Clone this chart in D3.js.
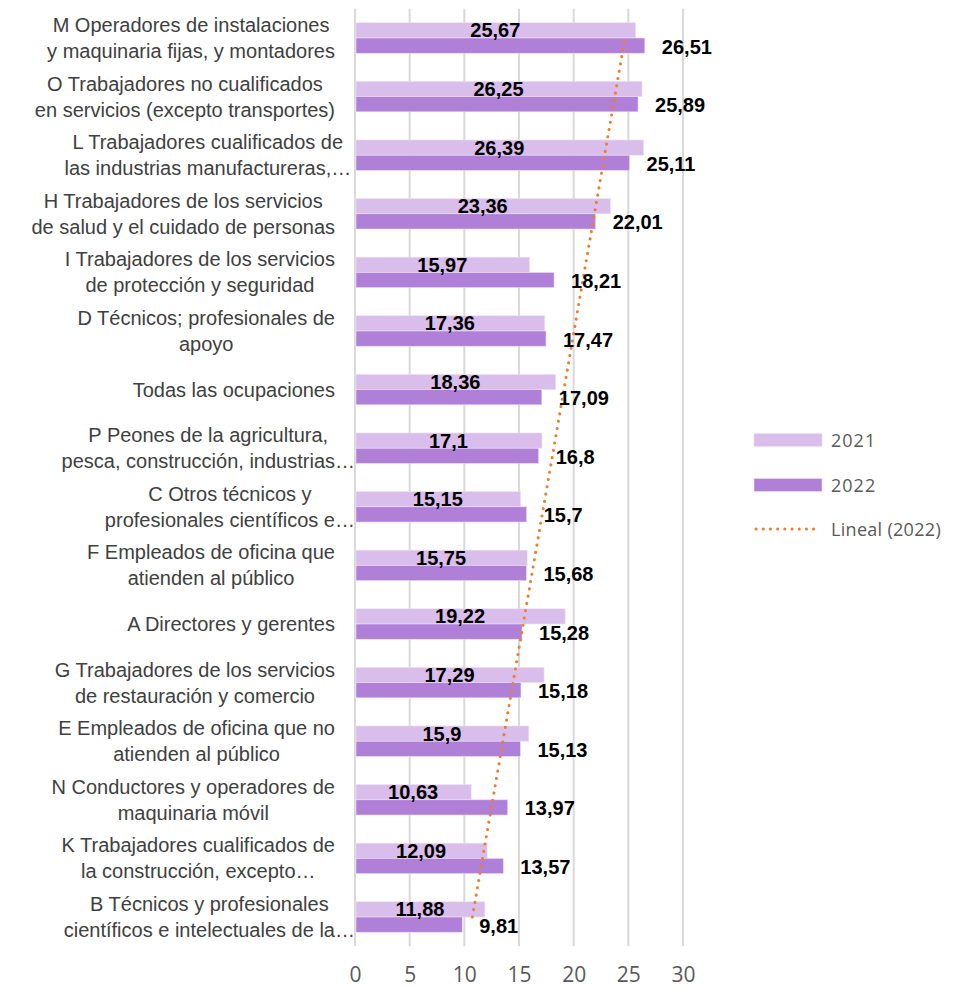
<!DOCTYPE html>
<html>
<head>
<meta charset="utf-8">
<script src="https://cdn.jsdelivr.net/npm/d3@7"></script>
<style>
  body { margin: 0; background: #fff; }
  svg { display: block; }
</style>
</head>
<body>
<svg id="chart" width="958" height="988"></svg>
<script>
// categories top to bottom, "|" marks the line break
const categories = [
  "M Operadores de instalaciones|y maquinaria fijas, y montadores",
  "O Trabajadores no cualificados|en servicios (excepto transportes)",
  "L Trabajadores cualificados de|las industrias manufactureras,…",
  "H Trabajadores de los servicios|de salud y el cuidado de personas",
  "I Trabajadores de los servicios|de protección y seguridad",
  "D Técnicos; profesionales de|apoyo",
  "Todas las ocupaciones",
  "P Peones de la agricultura,|pesca, construcción, industrias…",
  "C Otros técnicos y|profesionales científicos e…",
  "F Empleados de oficina que|atienden al público",
  "A Directores y gerentes",
  "G Trabajadores de los servicios|de restauración y comercio",
  "E Empleados de oficina que no|atienden al público",
  "N Conductores y operadores de|maquinaria móvil",
  "K Trabajadores cualificados de|la construcción, excepto…",
  "B Técnicos y profesionales|científicos e intelectuales de la…"
];
const values2021 = [25.67, 26.25, 26.39, 23.36, 15.97, 17.36, 18.36, 17.1, 15.15, 15.75, 19.22, 17.29, 15.9, 10.63, 12.09, 11.88];
const values2022 = [26.51, 25.89, 25.11, 22.01, 18.21, 17.47, 17.09, 16.8, 15.7, 15.68, 15.28, 15.18, 15.13, 13.97, 13.57, 9.81];
const seriesNames = ["2021", "2022"];
const trendName = "Lineal (2022)";
const xTicks = [0, 5, 10, 15, 20, 25, 30];

const colors = { "2021": "#D9BDEB", "2022": "#B07FD8" };
const trendColor = "#ED7D31";

const svg = d3.select("#chart");
const plot = { left: 355, right: 683, top: 8.7, bottom: 946.3 };

const rows = categories.map((c, i) => ({ cat: c, v2021: values2021[i], v2022: values2022[i], idx: i }));

const x = d3.scaleLinear().domain([0, 30]).range([plot.left, plot.right]);
const y = d3.scaleBand().domain(categories).range([plot.top, plot.bottom])
  .paddingInner(0.48).paddingOuter(0.24);
const ySub = d3.scaleBand().domain(seriesNames).range([0, y.bandwidth()]);

const fmt = v => String(v).replace(".", ",");

// gridlines
svg.append("g").attr("class", "grid")
  .selectAll("line").data(xTicks).enter().append("line")
  .attr("x1", d => x(d)).attr("x2", d => x(d))
  .attr("y1", plot.top).attr("y2", plot.bottom)
  .attr("stroke", "#D9D9D9").attr("stroke-width", 2);

// bars
const groups = svg.append("g").attr("class", "bars")
  .selectAll("g").data(rows).enter().append("g")
  .attr("transform", d => `translate(0,${y(d.cat)})`);

groups.selectAll("rect")
  .data(d => seriesNames.map(s => ({ s: s, v: d["v" + s] })))
  .enter().append("rect")
  .attr("x", x(0) + 1)
  .attr("y", d => ySub(d.s))
  .attr("width", d => x(d.v) - x(0) - 1)
  .attr("height", ySub.bandwidth())
  .attr("fill", d => colors[d.s])
  .attr("stroke", "#EDE1F6").attr("stroke-width", 0.6);

// trend line (least squares on 2022, Excel numbers categories from the bottom)
const n = rows.length;
const pts = rows.map(d => ({ k: n - d.idx, v: d.v2022, cat: d.cat }));
const mk = d3.mean(pts, p => p.k), mv = d3.mean(pts, p => p.v);
const slope = d3.sum(pts, p => (p.k - mk) * (p.v - mv)) / d3.sum(pts, p => (p.k - mk) * (p.k - mk));
const icept = mv - slope * mk;
const first = pts[0], last = pts[n - 1];
const trendPts = [last, first].map(p => [x(icept + slope * p.k), y(p.cat) + y.bandwidth() / 2]);

svg.append("path")
  .attr("d", d3.line()(trendPts))
  .attr("fill", "none")
  .attr("stroke", trendColor)
  .attr("stroke-width", 3)
  .attr("stroke-linecap", "round")
  .attr("stroke-dasharray", "0.1 7.3");

// data labels
const labels = svg.append("g").attr("class", "data-labels")
  .attr("font-family", "'Liberation Sans', Arial, sans-serif")
  .attr("font-size", 20).attr("font-weight", "bold").attr("fill", "#000");

labels.selectAll("text.l21").data(rows).enter().append("text")
  .attr("class", "l21")
  .attr("x", d => (x(0) + x(d.v2021)) / 2)
  .attr("y", d => y(d.cat) + ySub("2021") + ySub.bandwidth() / 2)
  .attr("text-anchor", "middle")
  .attr("dominant-baseline", "central")
  .text(d => fmt(d.v2021));

labels.selectAll("text.l22").data(rows).enter().append("text")
  .attr("class", "l22")
  .attr("x", d => x(d.v2022) + 17)
  .attr("y", d => y(d.cat) + ySub("2022") + ySub.bandwidth() / 2 + 1)
  .attr("dominant-baseline", "central")
  .text(d => fmt(d.v2022));

// category labels
const catG = svg.append("g").attr("class", "cat-labels")
  .attr("font-family", "'Liberation Sans', Arial, sans-serif")
  .attr("font-size", 20).attr("fill", "#404040");

rows.forEach(d => {
  const lines = d.cat.split("|");
  const cy = y(d.cat) + y.bandwidth() / 2;
  const t = catG.append("text").attr("text-anchor", "middle");
  const spans = lines.map((ln, j) => t.append("tspan")
    .attr("y", cy + (j - (lines.length - 1) / 2) * 26)
    .attr("dominant-baseline", "central")
    .text(ln));
  const widths = spans.map(s => s.node().getComputedTextLength());
  const wMax = d3.max(widths);
  const longest = lines[widths.indexOf(wMax)];
  const wPlain = d3.max(widths.filter((w, j) => !lines[j].endsWith("…"))) || 0;
  // truncated lines are allowed to run a little past the usual right edge
  const right = longest.endsWith("…") ? 335 + Math.min(20, wMax - wPlain) : 335;
  spans.forEach(s => s.attr("x", right - wMax / 2));
});

// x axis
const xAxis = d3.axisBottom(x).tickValues(xTicks).tickSize(0).tickPadding(0);
const axG = svg.append("g")
  .attr("transform", `translate(0,${plot.bottom + 21})`)
  .call(xAxis);
axG.select(".domain").remove();
axG.selectAll("text")
  .attr("font-family", "'Open Sans', sans-serif")
  .attr("font-size", 21)
  .attr("fill", "#595959");

// legend
const legend = svg.append("g").attr("class", "legend")
  .attr("font-family", "'Open Sans', sans-serif")
  .attr("font-size", 18).attr("fill", "#595959");
const legItems = [
  { name: seriesNames[0], type: "bar", cy: 440 },
  { name: seriesNames[1], type: "bar", cy: 485 },
  { name: trendName, type: "trend", cy: 529 }
];
legItems.forEach(it => {
  if (it.type === "bar") {
    legend.append("rect")
      .attr("x", 754).attr("y", it.cy - 6.5)
      .attr("width", 68).attr("height", 13)
      .attr("fill", colors[it.name]).attr("stroke", "#EDE1F6").attr("stroke-width", 0.6);
  } else {
    legend.append("line")
      .attr("x1", 756).attr("x2", 820)
      .attr("y1", it.cy).attr("y2", it.cy)
      .attr("stroke", trendColor).attr("stroke-width", 3)
      .attr("stroke-linecap", "round").attr("stroke-dasharray", "0.1 7.1");
  }
  legend.append("text")
    .attr("x", 831).attr("y", it.cy)
    .attr("dominant-baseline", "central")
    .attr("letter-spacing", it.type === "bar" ? 1 : 0.3)
    .text(it.name);
});
</script>
</body>
</html>
